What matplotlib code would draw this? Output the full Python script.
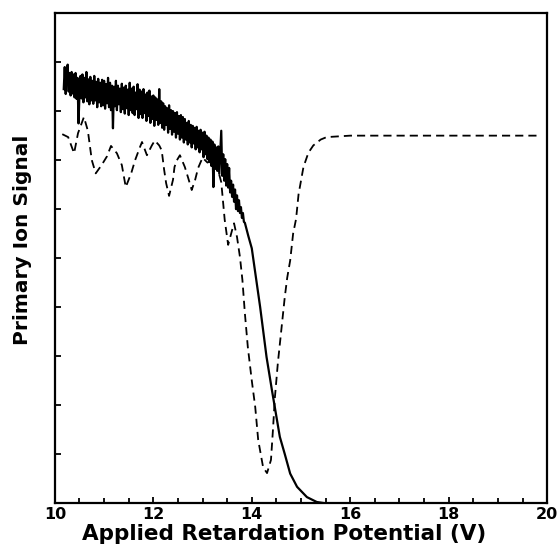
import numpy as np
import matplotlib
matplotlib.use("Agg")
import matplotlib.pyplot as plt

# Solid (noisy) trace: sampled every 0.02 V from 10.18 to 13.86, then smooth tail
solid_noisy_x = np.round(np.arange(10.18, 13.861, 0.02), 2)
solid_noisy_y = [
    8.45, 8.90, 8.35, 8.82, 8.95, 8.40, 8.78, 8.32, 8.80, 8.36,
    8.75, 8.28, 8.78, 8.25, 8.68, 7.75, 8.35, 8.72, 8.26, 8.75,
    8.18, 8.68, 8.28, 8.80, 8.20, 8.65, 8.14, 8.70, 8.22, 8.62,
    8.15, 8.72, 8.22, 8.60, 8.08, 8.66, 8.18, 8.58, 8.10, 8.64,
    8.12, 8.62, 8.05, 8.55, 8.16, 8.68, 8.08, 8.58, 8.02, 8.52,
    7.65, 8.50, 8.10, 8.62, 8.02, 8.52, 8.14, 8.46, 7.98, 8.56,
    8.04, 8.48, 7.95, 8.52, 8.06, 8.44, 7.92, 8.58, 8.02, 8.46,
    7.96, 8.50, 7.92, 8.38, 8.04, 8.55, 7.86, 8.44, 7.94, 8.40,
    7.86, 8.45, 7.96, 8.34, 7.80, 8.38, 7.90, 8.42, 7.76, 8.30,
    7.84, 8.32, 7.70, 8.28, 7.82, 8.24, 7.72, 8.45, 7.76, 8.20,
    7.66, 8.16, 7.62, 8.10, 7.72, 8.06, 7.56, 8.12, 7.64, 8.02,
    7.52, 8.00, 7.58, 7.96, 7.46, 7.98, 7.54, 7.90, 7.42, 7.92,
    7.46, 7.88, 7.36, 7.84, 7.42, 7.76, 7.32, 7.80, 7.36, 7.72,
    7.26, 7.70, 7.34, 7.66, 7.22, 7.68, 7.26, 7.60, 7.16, 7.62,
    7.22, 7.56, 7.06, 7.58, 7.12, 7.50, 7.02, 7.46, 6.96, 7.42,
    6.88, 7.38, 6.45, 7.32, 6.82, 7.26, 6.78, 7.28, 6.72, 7.18,
    7.60, 6.68, 7.12, 6.58, 7.02, 6.48, 6.92, 6.44, 6.84, 6.34,
    6.58, 6.25, 6.50, 6.15, 6.40, 6.00, 6.28, 5.96, 6.18, 5.92,
    6.04, 5.82, 5.92, 5.74, 5.72,
]
solid_tail_x = [13.93, 14.00, 14.05, 14.10, 14.17, 14.30, 14.41, 14.51, 14.57,
                14.67, 14.78, 14.92, 15.12, 15.32, 15.45]
solid_tail_y = [5.45, 5.20, 4.85, 4.50, 4.00, 2.98, 2.30, 1.70, 1.35,
                1.00, 0.60, 0.33, 0.12, 0.02, 0.00]

# Dashed trace
dashed_x = [10.15, 10.27, 10.39, 10.47, 10.59, 10.67, 10.75, 10.83, 10.95, 11.06,
            11.14, 11.26, 11.36, 11.44, 11.55, 11.63, 11.73, 11.77, 11.87, 11.97,
            12.03, 12.12, 12.17, 12.22, 12.26, 12.32, 12.40, 12.43, 12.48, 12.54,
            12.64, 12.71, 12.78, 12.85, 12.91, 13.00, 13.10, 13.20, 13.30, 13.38,
            13.45, 13.52, 13.60, 13.64, 13.70, 13.76, 13.81, 13.86, 13.92, 14.00,
            14.07, 14.13, 14.23, 14.31, 14.39, 14.43, 14.47, 14.53, 14.60, 14.67,
            14.72, 14.78, 14.84, 14.90, 14.95, 15.05, 15.15, 15.25, 15.40, 15.52,
            16.00, 17.00, 18.00, 19.00, 19.80]
dashed_y = [7.53, 7.47, 7.14, 7.55, 7.88, 7.60, 7.00, 6.73, 6.90, 7.08,
            7.29, 7.14, 6.90, 6.45, 6.73, 7.00, 7.27, 7.37, 7.10, 7.30,
            7.40, 7.30, 7.20, 6.80, 6.53, 6.27, 6.60, 6.86, 7.00, 7.10,
            6.86, 6.63, 6.39, 6.60, 6.84, 7.05, 6.95, 7.00, 6.85, 6.55,
            5.78, 5.27, 5.57, 5.71, 5.43, 5.02, 4.55, 3.87, 3.18, 2.50,
            1.96, 1.29, 0.73, 0.61, 0.88, 1.49, 2.16, 2.86, 3.53, 4.20,
            4.60, 4.95, 5.50, 5.80, 6.30, 6.86, 7.15, 7.30, 7.42, 7.47,
            7.50, 7.50, 7.50, 7.50, 7.50]

x_ticks = [10, 12, 14, 16, 18, 20]
x_label = "Applied Retardation Potential (V)"
y_label = "Primary Ion Signal"

fig = plt.figure(figsize=(5.6, 5.5), dpi=100)
ax = fig.add_axes([0.098, 0.0855, 0.879, 0.8905])

solid_x = list(solid_noisy_x) + solid_tail_x
solid_y = list(solid_noisy_y) + solid_tail_y
ax.plot(solid_x, solid_y, color="black", lw=1.6)
ax.plot(dashed_x, dashed_y, color="black", lw=1.3, dashes=(4.5, 2.8))

ax.set_xlim(10, 20)
ax.set_ylim(0, 10)
ax.set_xticks(x_ticks)
ax.set_xticks(np.arange(10, 20.01, 0.5), minor=True)
ax.set_yticks(np.arange(1, 10, 1))
ax.set_yticklabels([])
ax.tick_params(axis="both", which="both", direction="in", width=1.3)
ax.tick_params(axis="both", which="major", length=4.5)
ax.tick_params(axis="both", which="minor", length=3.5)
ax.tick_params(axis="x", which="major", labelsize=11.5, pad=3)
for lab in ax.get_xticklabels():
    lab.set_fontweight("bold")
for s in ax.spines.values():
    s.set_linewidth(1.6)

ax.set_xlabel(x_label, fontsize=15.5, fontweight="bold", va="top")
ax.xaxis.set_label_coords(0.465, -0.043)
ax.set_ylabel(y_label, fontsize=14.5, fontweight="bold")
ax.yaxis.set_label_coords(-0.046, 0.537)

fig.savefig("out.png", dpi=100)
